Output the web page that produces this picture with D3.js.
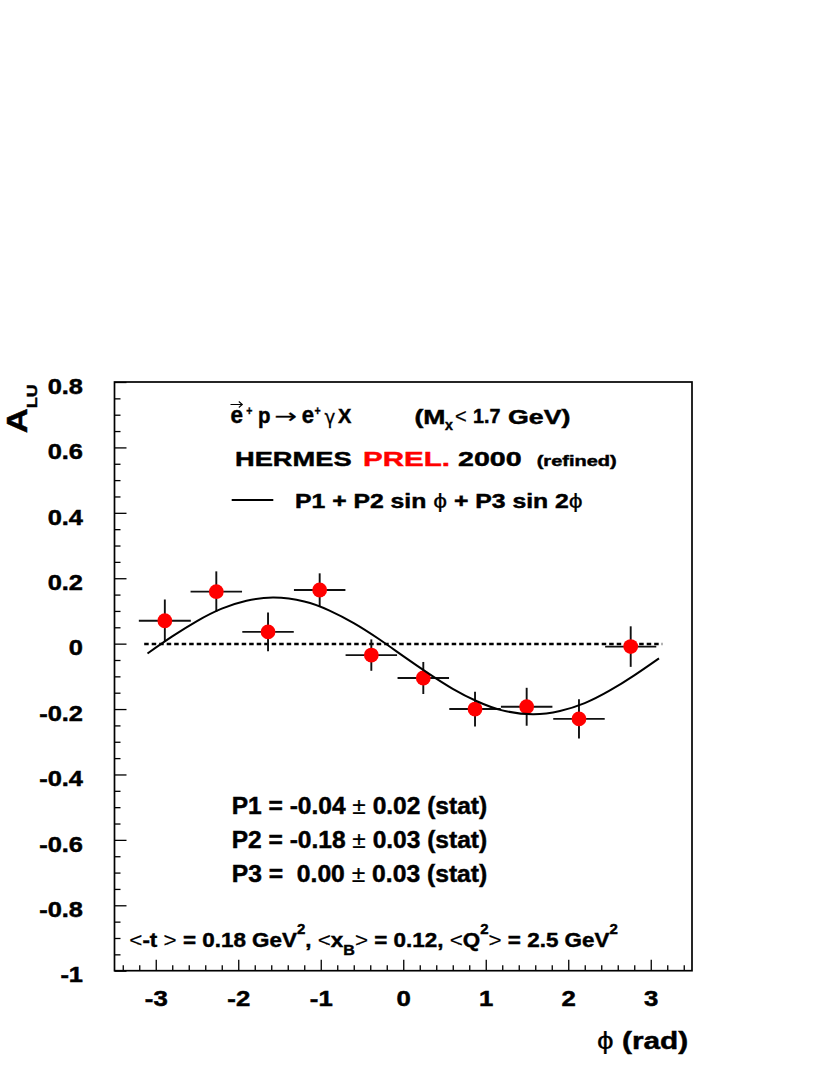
<!DOCTYPE html>
<html>
<head>
<meta charset="utf-8">
<script src="https://cdn.jsdelivr.net/npm/d3@7"></script>
<style>
  html, body { margin: 0; padding: 0; background: #fff; }
  svg { display: block; }
</style>
</head>
<body>
<svg id="chart" width="830" height="1075"></svg>
<script>
// ---------------- data ----------------
const phi      = [-2.890, -2.266, -1.639, -1.013, -0.387, 0.243, 0.870, 1.496, 2.130, 2.757];
const alu      = [ 0.070,  0.159,  0.036,  0.164, -0.035, -0.105, -0.200, -0.193, -0.230, -0.009];
const aluErr   = [ 0.065,  0.062,  0.059,  0.051,  0.048,  0.049,  0.053,  0.058,  0.060,  0.062];
const phiErr   = [ 0.315,  0.312,  0.312,  0.312,  0.312,  0.312,  0.312,  0.312,  0.312,  0.310];

// fitted curve, sampled from the drawn line
const fitPhi   = [-3.10, -2.80, -2.50, -2.20, -1.90, -1.57, -1.20, -0.90, -0.60, -0.30, 0.00,
                   0.30,  0.60,  0.90,  1.20,  1.57,  1.90,  2.20,  2.50,  2.80,  3.10];
const fitVal   = [-0.030, 0.022, 0.069, 0.107, 0.131, 0.141, 0.129, 0.102, 0.063, 0.015, -0.038,
                  -0.090, -0.138, -0.177, -0.204, -0.216, -0.206, -0.182, -0.144, -0.097, -0.045];

const zeroLine = [-3.14, 3.14];

const xTicks      = [-3, -2, -1, 0, 1, 2, 3];
const xTickLabels = ["-3", "-2", "-1", "0", "1", "2", "3"];
const yTicks      = [-1, -0.8, -0.6, -0.4, -0.2, 0, 0.2, 0.4, 0.6, 0.8];
const yTickLabels = ["-1", "-0.8", "-0.6", "-0.4", "-0.2", "0", "0.2", "0.4", "0.6", "0.8"];

const fitParams = [
  "P1 = -0.04 \u00b1 0.02 (stat)",
  "P2 = -0.18 \u00b1 0.03 (stat)",
  "P3 =  0.00 \u00b1 0.03 (stat)"
];

// ---------------- layout ----------------
const FONT = '"Liberation Sans", Arial, Helvetica, sans-serif';
const SYM = '"DejaVu Sans", "Liberation Sans", sans-serif';
const PHI = "\u03d5";
const L = 114.5, R = 692, T = 382, B = 970.7;

const svg = d3.select("#chart");
const x = d3.scaleLinear().domain([-3.5, 3.5]).range([L, R]);
const y = d3.scaleLinear().domain([-1, 0.8]).range([B, T]);

// helper: draw text and stretch it horizontally to a target width
function fit(parent, px, py, width, build, rot) {
  const g = parent.append("g")
    .attr("transform", `translate(${px},${py})` + (rot ? ` rotate(${rot})` : ""));
  const inner = g.append("g");
  const t = inner.append("text")
    .attr("font-family", FONT).attr("font-weight", "bold")
    .attr("stroke", "currentColor").attr("stroke-width", 0.45)
    .style("white-space", "pre");
  build(t);
  const bb = t.node().getBBox();
  inner.attr("transform", `scale(${width / bb.width},1) translate(${-bb.x},0)`);
  return t;
}
function tok(px, py, width, str, size, weight, fill, family) {
  return fit(svg, px, py, width, t => {
    t.attr("font-size", size).text(str);
    if (weight) t.attr("font-weight", weight).attr("stroke-width", 0.25);
    if (fill) t.attr("fill", fill).style("color", fill);
    if (family) t.attr("font-family", family);
  });
}
function rich(t, parts, base) {
  let cur = 0;
  parts.forEach(p => {
    const s = t.append("tspan").text(p.t).attr("font-size", p.s || base);
    const sh = p.sh || 0;
    if (sh !== cur) { s.attr("dy", sh - cur); cur = sh; }
    if (p.w) s.attr("font-weight", p.w).attr("stroke-width", 0.2);
    if (p.f) s.attr("fill", p.f);
  });
}

// ---------------- axes ----------------
const minorY = d3.range(-1, 0.8001, 0.05).filter(v => Math.abs(v * 5 - Math.round(v * 5)) > 1e-6);
const minorX = d3.range(-3.4, 3.4001, 0.2).filter(v => Math.abs(v - Math.round(v)) > 1e-6);

const gyMinor = svg.append("g").attr("transform", `translate(${L},0)`)
  .call(d3.axisLeft(y).tickValues(minorY).tickSize(-6).tickFormat(""));
const gy = svg.append("g").attr("transform", `translate(${L},0)`)
  .call(d3.axisLeft(y).tickValues(yTicks).tickSize(-12).tickPadding(0)
        .tickFormat((d, i) => yTickLabels[i]));
const gxMinor = svg.append("g").attr("transform", `translate(0,${B})`)
  .call(d3.axisBottom(x).tickValues(minorX).tickSize(-5.5).tickFormat(""));
const gx = svg.append("g").attr("transform", `translate(0,${B})`)
  .call(d3.axisBottom(x).tickValues(xTicks).tickSize(-11).tickPadding(0)
        .tickFormat((d, i) => xTickLabels[i]));

[gyMinor, gy, gxMinor, gx].forEach(g => {
  g.select(".domain").remove();
  g.selectAll(".tick line").attr("stroke", "#000").attr("stroke-width", 1.3);
});
gy.selectAll(".tick text")
  .attr("font-family", FONT).attr("font-weight", "bold").attr("font-size", 22.5)
  .attr("fill", "#000").attr("stroke", "#000").attr("stroke-width", 0.5)
  .attr("text-anchor", "end")
  .attr("x", 0).attr("y", 11.2).attr("dy", 0)
  .attr("transform", "translate(-31.5,0) scale(1.13,1)");
gx.selectAll(".tick text")
  .attr("font-family", FONT).attr("font-weight", "bold").attr("font-size", 22)
  .attr("fill", "#000").attr("stroke", "#000").attr("stroke-width", 0.5)
  .attr("text-anchor", "middle")
  .attr("x", 0).attr("y", 35.5).attr("dy", 0)
  .attr("transform", "scale(1.17,1)");

// frame
svg.append("rect")
  .attr("x", L).attr("y", T).attr("width", R - L).attr("height", B - T)
  .attr("fill", "none").attr("stroke", "#000").attr("stroke-width", 1.7);

// ---------------- marks ----------------
svg.append("path")
  .attr("d", d3.line()(zeroLine.map(v => [x(v), Math.round(y(0))])))
  .attr("stroke", "#000").attr("stroke-width", 2.4).attr("stroke-dasharray", "4.5,3")
  .attr("fill", "none");

const pts = phi.map((p, i) => ({ p, a: alu[i], ea: aluErr[i], ep: phiErr[i] }));
const eb = svg.append("g").attr("stroke", "#111").attr("stroke-width", 1.9);
eb.selectAll("line.h").data(pts).join("line").attr("class", "h")
  .attr("x1", d => x(d.p - d.ep)).attr("x2", d => x(d.p + d.ep))
  .attr("y1", d => y(d.a)).attr("y2", d => y(d.a));
eb.selectAll("line.v").data(pts).join("line").attr("class", "v")
  .attr("x1", d => x(d.p)).attr("x2", d => x(d.p))
  .attr("y1", d => y(d.a - d.ea)).attr("y2", d => y(d.a + d.ea));
svg.append("g").selectAll("circle").data(pts).join("circle")
  .attr("cx", d => x(d.p)).attr("cy", d => y(d.a)).attr("r", 7.4)
  .attr("fill", "#ff0000");

svg.append("path")
  .attr("d", d3.line().x((d, i) => x(fitPhi[i])).y(d => y(d)).curve(d3.curveNatural)(fitVal))
  .attr("stroke", "#000").attr("stroke-width", 2).attr("fill", "none");

// ---------------- texts ----------------
// line 1 : e(vec)+ p -> e+ gamma X   (Mx< 1.7 GeV)
const b1 = 423.3, sup1 = 414.5;
// vector arrow over the first e
svg.append("path")
  .attr("d", "M230.5,404.5 H242 M238.8,401.5 L242.3,404.5 L238.8,407.5")
  .attr("stroke", "#000").attr("stroke-width", 1.1).attr("fill", "none");
tok(230.5, b1,   12.5, "e", 23);
tok(246.2, sup1,  6.5, "+", 13);
tok(258,   b1,   12.5, "p", 23);
tok(274.5, b1 - 0.5, 22.5, "\u2192", 20, "normal", null, SYM);
tok(301.7, b1,   12.3, "e", 23);
tok(314.5, sup1,  6.5, "+", 13);
tok(324.5, b1 + 0.5, 11, "\u03b3", 20, "normal", null, SYM);
tok(338,   b1,   14,   "X", 20);
tok(414.5, b1 + 1, 31, "(M", 20);
tok(445,   b1 + 7, 8.5, "x", 15);
tok(455,   b1,   11.7, "<", 21, "normal");
tok(473,   b1,   27.5, "1.7", 20);
tok(508,   b1 + 1, 62.5, "GeV)", 20);

// line 2
tok(235,   466, 116.7, "HERMES", 21);
tok(363,   466, 87,    "PREL.", 21, null, "#ff0000");
tok(458,   466, 63.7,  "2000", 21);
tok(536.7, 466, 80,    "(refined)", 15);

// legend line
svg.append("line").attr("x1", 231.7).attr("x2", 273.3).attr("y1", 500).attr("y2", 500)
  .attr("stroke", "#000").attr("stroke-width", 2);
fit(svg, 295, 508.3, 288, t => rich(t, [
  { t: "P1 + P2 sin " }, { t: PHI, w: "normal" }, { t: " + P3 sin 2" }, { t: PHI, w: "normal" }
], 19.5));

// fit parameters
const pBase = [814.3, 848.3, 881.7];
fitParams.forEach((s, i) => {
  fit(svg, 231.7, pBase[i], 255.6, t => {
    const parts = s.split("\u00b1");
    rich(t, [{ t: parts[0] }, { t: "\u00b1", w: "normal" }, { t: parts[1] }], 23);
  });
});

// kinematics line
fit(svg, 129.3, 947.3, 489, t => rich(t, [
  { t: "<", w: "normal" }, { t: "-t " }, { t: ">", w: "normal" }, { t: " = 0.18 GeV" },
  { t: "2", s: 14, sh: -13 }, { t: ", " }, { t: "<", w: "normal" }, { t: "x" },
  { t: "B", s: 15, sh: 8 }, { t: ">", w: "normal" }, { t: " = 0.12, " },
  { t: "<", w: "normal" }, { t: "Q" }, { t: "2", s: 14, sh: -13 }, { t: ">", w: "normal" },
  { t: " = 2.5 GeV" }, { t: "2", s: 14, sh: -13 }
], 21));

// axis titles
fit(svg, 26.5, 433.3, 49, t => rich(t, [
  { t: "A" }, { t: "LU", s: 15, sh: 10.8 }
], 29), -90);

fit(svg, 597, 1049, 91.3, t => rich(t, [
  { t: PHI, w: "normal" }, { t: " (rad)" }
], 24.5));
</script>
</body>
</html>
